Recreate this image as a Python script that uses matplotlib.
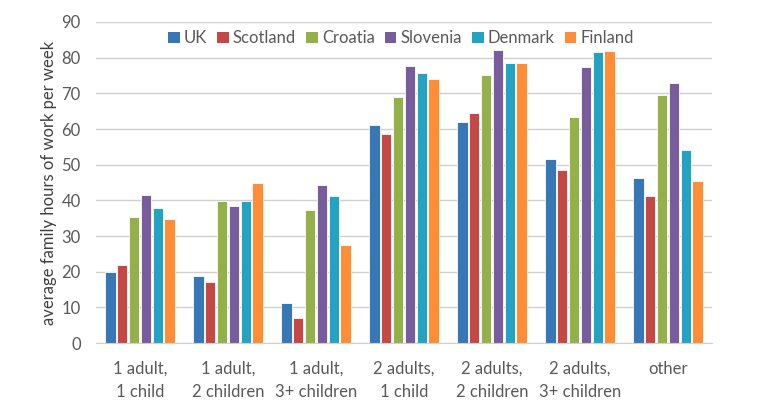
import matplotlib as mpl
import matplotlib.pyplot as plt
import numpy as np
from matplotlib.patches import Patch

mpl.rcParams.update({
    "font.family": ["Lato", "DejaVu Sans"],
    "font.size": 12,
    "text.color": "#595959",
    "xtick.color": "#595959",
    "ytick.color": "#595959",
})

categories = ["1 adult,\n1 child", "1 adult,\n2 children", "1 adult,\n3+ children",
              "2 adults,\n1 child", "2 adults,\n2 children", "2 adults,\n3+ children",
              "other"]
countries = ["UK", "Scotland", "Croatia", "Slovenia", "Denmark", "Finland"]
uk       = [19.8, 18.8, 11.1, 61.1, 61.9, 51.5, 46.3]
scotland = [21.8, 17.2, 7.0, 58.7, 64.6, 48.5, 41.2]
croatia  = [35.4, 39.8, 37.2, 69.1, 75.2, 63.3, 69.4]
slovenia = [41.4, 38.3, 44.4, 77.7, 82.1, 77.4, 73.0]
denmark  = [37.8, 39.7, 41.2, 75.6, 78.4, 81.6, 54.0]
finland  = [34.9, 44.9, 27.4, 74.0, 78.5, 81.9, 45.5]
series = [uk, scotland, croatia, slovenia, denmark, finland]
colors = ["#3877B6", "#C44845", "#93B049", "#785C9C", "#23A3C2", "#FF8C36"]

fig = plt.figure(figsize=(7.68, 4.11), dpi=100)
ax = fig.add_axes([96 / 768, 1 - 343 / 411, 616 / 768, 321 / 411])

x = np.arange(len(categories))
step = 0.134
width = 0.115
for i, (vals, col) in enumerate(zip(series, colors)):
    ax.bar(x + (i - 2.5) * step, vals, width, color=col,
           edgecolor="white", linewidth=0.6, zorder=2, label=countries[i])

ax.set_xlim(-0.5, len(categories) - 0.5)
ax.set_ylim(0, 90)
ax.set_yticks(np.arange(0, 91, 10))
ax.set_xticks(x)
ax.set_xticklabels(categories, linespacing=1.55)
ax.grid(axis="y", color="#D0D0D0", linewidth=1.0, zorder=0)
for s in ["top", "right", "left"]:
    ax.spines[s].set_visible(False)
ax.spines["bottom"].set_color("#D0D0D0")
ax.tick_params(axis="both", length=0)
ax.tick_params(axis="y", pad=11)
ax.tick_params(axis="x", pad=13)
ax.set_ylabel("average family hours of work per week", fontsize=12,
              color="#404040", labelpad=3)

handles = [Patch(facecolor=c, label=n) for c, n in zip(colors, countries)]
ax.legend(handles=handles, loc="upper center", bbox_to_anchor=(0.495, 1.0),
          ncol=6, frameon=False, handlelength=0.7, handleheight=0.7,
          handletextpad=0.25, columnspacing=0.6, borderaxespad=0.1)

fig.savefig("out.png", dpi=100)
